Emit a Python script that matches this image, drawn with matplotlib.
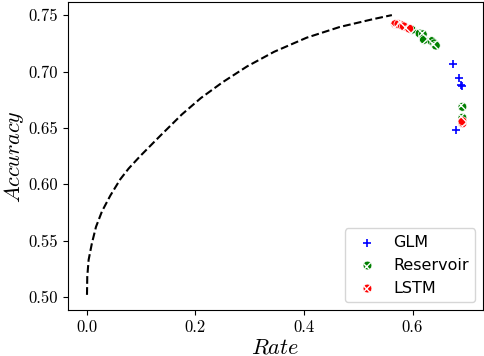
import matplotlib
matplotlib.use('Agg')
import matplotlib.pyplot as plt

plt.rcParams['mathtext.fontset'] = 'cm'
plt.rcParams['font.family'] = 'serif'
plt.rcParams['font.serif'] = ['cmr10']
plt.rcParams['axes.formatter.use_mathtext'] = True

# bound curve
bound_rate = [0.0, 0.0005, 0.003, 0.009, 0.0166, 0.0276, 0.043, 0.0614, 0.0768,
              0.098, 0.135, 0.175, 0.210, 0.250, 0.295, 0.345, 0.405, 0.466,
              0.528, 0.562]
bound_acc = [0.502, 0.518, 0.533, 0.5476, 0.5623, 0.576, 0.590, 0.6045, 0.614,
             0.625, 0.643, 0.662, 0.6765, 0.6905, 0.7045, 0.7175, 0.730, 0.7395,
             0.7465, 0.750]

glm_rate = [0.674, 0.685, 0.689, 0.691, 0.681]
glm_acc = [0.7066, 0.694, 0.688, 0.687, 0.648]

res_rate = [0.692, 0.692, 0.599, 0.613, 0.619, 0.621, 0.635, 0.640, 0.643]
res_acc = [0.6687, 0.659, 0.737, 0.7337, 0.733, 0.728, 0.727, 0.725, 0.723]

lstm_rate = [0.692, 0.692, 0.568, 0.574, 0.580, 0.584, 0.594]
lstm_acc = [0.654, 0.656, 0.742, 0.742, 0.741, 0.740, 0.738]

fig = plt.figure(figsize=(4.84, 3.56), dpi=100)
ax = fig.add_axes([0.1405, 0.129, 0.8575, 0.865])

ax.plot(bound_rate, bound_acc, 'k--', lw=1.5)
ax.scatter(glm_rate, glm_acc, marker='+', color='blue', s=40, lw=1.2, label='GLM')
ax.scatter(res_rate, res_acc, marker='o', facecolor='green', edgecolor='white',
           hatch='xxx', s=40, lw=0.5, label='Reservoir')
ax.scatter(lstm_rate, lstm_acc, marker='o', facecolor='red', edgecolor='white',
           hatch='xxx', s=40, lw=0.5, label='LSTM')

ax.set_xlim(-0.035, 0.73)
ax.set_ylim(0.4885, 0.7615)
ax.set_xticks([0.0, 0.2, 0.4, 0.6])
ax.set_yticks([0.50, 0.55, 0.60, 0.65, 0.70, 0.75])
ax.set_xticklabels(['0.0', '0.2', '0.4', '0.6'])
ax.set_yticklabels(['0.50', '0.55', '0.60', '0.65', '0.70', '0.75'])
ax.tick_params(labelsize=12)
ax.set_xlabel('$Rate$', fontsize=16, labelpad=2)
ax.set_ylabel('$Accuracy$', fontsize=16, labelpad=2)

ax.legend(loc='lower right', prop={'family': 'DejaVu Sans', 'size': 11.5},
          handletextpad=0.6)

fig.savefig('out.png', dpi=100)
